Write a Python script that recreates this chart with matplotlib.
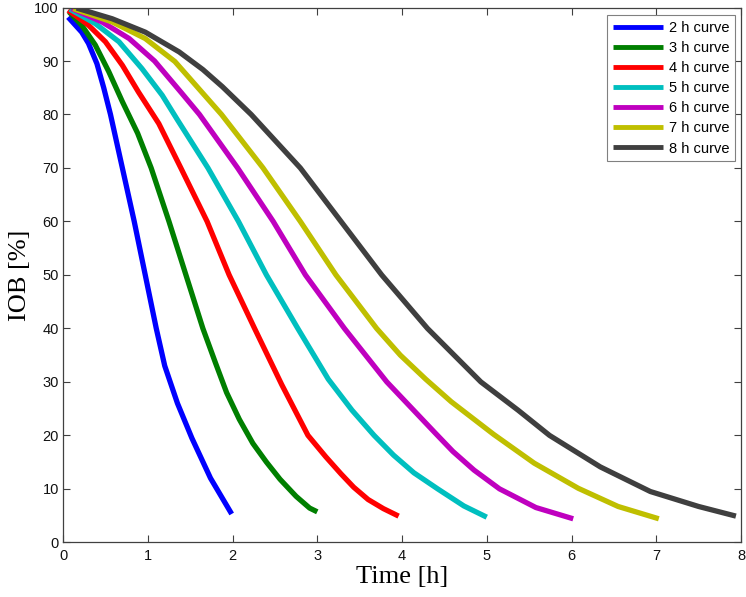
import matplotlib
matplotlib.use("Agg")
import matplotlib.pyplot as plt

labels = ["2 h curve", "3 h curve", "4 h curve", "5 h curve", "6 h curve", "7 h curve", "8 h curve"]
colors = ["#0000ff", "#007f00", "#ff0000", "#00bfbf", "#bf00bf", "#bfbf00", "#3f3f3f"]

t_2h = [0.06, 0.22, 0.30, 0.40, 0.48, 0.56, 0.70, 0.84, 0.97, 1.10, 1.20, 1.35, 1.52, 1.74, 1.99]
v_2h = [98.2, 95.4, 93.3, 89.5, 85, 80, 70, 60, 50, 40, 33, 26, 19.5, 12, 5.3]

t_3h = [0.07, 0.22, 0.38, 0.54, 0.70, 0.88, 1.04, 1.25, 1.45, 1.65, 1.80, 1.93, 2.08, 2.24, 2.40, 2.56, 2.75, 2.91, 3.00]
v_3h = [99.2, 96.7, 93, 88, 82.4, 76.5, 70, 60, 50, 40, 33.5, 28, 23, 18.5, 15, 11.8, 8.6, 6.4, 5.7]

t_4h = [0.06, 0.30, 0.50, 0.70, 0.89, 1.13, 1.39, 1.70, 1.96, 2.26, 2.58, 2.89, 3.10, 3.28, 3.43, 3.60, 3.78, 3.96]
v_4h = [99.5, 96.7, 93.6, 89.2, 84.2, 78.3, 70, 60, 50, 40, 29.5, 20, 16, 12.8, 10.3, 8, 6.3, 4.9]

t_5h = [0.08, 0.38, 0.66, 0.93, 1.17, 1.35, 1.71, 2.07, 2.40, 2.77, 3.13, 3.41, 3.67, 3.90, 4.14, 4.42, 4.73, 5.00]
v_5h = [99.7, 97, 93.6, 88.6, 83.6, 79, 70, 60, 50, 40, 30.5, 24.7, 20, 16.3, 13, 10, 6.8, 4.7]

t_6h = [0.10, 0.46, 0.78, 1.08, 1.40, 1.61, 2.06, 2.48, 2.86, 3.32, 3.82, 4.40, 4.60, 4.85, 5.15, 5.58, 6.02]
v_6h = [99.8, 97.3, 94.2, 90, 84, 80, 70, 60, 50, 40, 30, 20.3, 17, 13.5, 10, 6.5, 4.4]

t_7h = [0.12, 0.58, 0.97, 1.32, 1.87, 2.36, 2.80, 3.22, 3.70, 3.98, 4.28, 4.58, 5.08, 5.56, 6.08, 6.55, 7.03]
v_7h = [99.8, 97.3, 94.2, 89.9, 80, 70, 60, 50, 40, 35, 30.5, 26.3, 20.2, 14.8, 10.1, 6.7, 4.4]

t_8h = [0.16, 0.58, 0.97, 1.37, 1.65, 1.88, 2.22, 2.80, 3.28, 3.76, 4.30, 4.93, 5.37, 5.74, 6.34, 6.93, 7.50, 7.94]
v_8h = [99.9, 97.9, 95.4, 91.7, 88.4, 85.2, 80, 70, 60, 50, 40, 30, 24.7, 20, 14.1, 9.5, 6.7, 4.9]

x_ticks = [0, 1, 2, 3, 4, 5, 6, 7, 8]
y_ticks = [0, 10, 20, 30, 40, 50, 60, 70, 80, 90, 100]

series = [(t_2h, v_2h), (t_3h, v_3h), (t_4h, v_4h), (t_5h, v_5h),
          (t_6h, v_6h), (t_7h, v_7h), (t_8h, v_8h)]

fig = plt.figure(figsize=(7.46, 5.97), dpi=100)
ax = fig.add_axes([0.0845, 0.0916, 0.9088, 0.8958])

for (t, v), c, lab in zip(series, colors, labels):
    ax.plot(t, v, color=c, lw=3.8, label=lab, solid_capstyle="butt", solid_joinstyle="round")

ax.set_xlim(0, 8)
ax.set_ylim(0, 100)
ax.set_xticks(x_ticks)
ax.set_yticks(y_ticks)
axcol = "#404040"
for s in ax.spines.values():
    s.set_color(axcol)
    s.set_linewidth(0.9)
ax.tick_params(direction="in", length=5, width=0.8, color=axcol, top=True, right=True,
               labelsize=10.5, labelcolor="#111111")
ax.tick_params(axis="x", pad=5)
ax.tick_params(axis="y", pad=3)
for lab in ax.get_xticklabels() + ax.get_yticklabels():
    lab.set_family("Liberation Sans")

ax.set_xlabel("Time [h]", family="Liberation Serif", fontsize=19, labelpad=2)
ax.set_ylabel("IOB [%]", family="Liberation Serif", fontsize=19, labelpad=2)

leg = ax.legend(loc="upper right", bbox_to_anchor=(0.991, 0.986), fancybox=False,
                framealpha=1, edgecolor="#808080", prop={"family": "Liberation Sans", "size": 10.5},
                handlelength=3.4, handletextpad=0.4, labelspacing=0.42, borderpad=0.4,
                borderaxespad=0)
for line in leg.get_lines():
    line.set_linewidth(3.5)
leg.get_frame().set_linewidth(0.8)

fig.savefig("out.png", dpi=100)
